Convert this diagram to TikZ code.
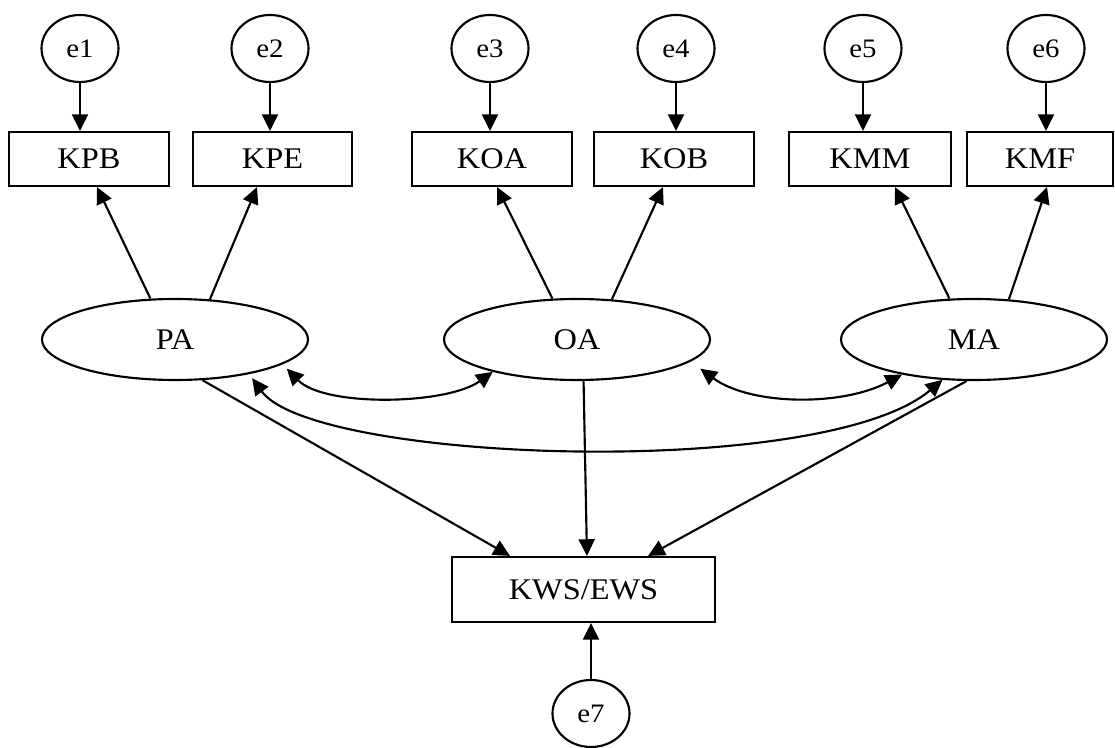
\documentclass[tikz,border=0pt]{standalone}
\usepackage{fontspec}
\setmainfont[FakeStretch=1.08]{Liberation Serif}
\usetikzlibrary{arrows.meta,shapes.geometric}
\begin{document}
\begin{tikzpicture}[x=0.75pt,y=-0.75pt,line width=1.6pt,
  arr/.style={-{Triangle[length=12.5pt,width=12pt]}},
  darr/.style={{Triangle[length=12.5pt,width=12pt]}-{Triangle[length=12.5pt,width=12pt]}},
  err/.style={draw,ellipse,minimum width=57.75pt,minimum height=50.25pt,inner sep=0pt,font=\fontsize{20}{22}\selectfont},
  obs/.style={draw,rectangle,minimum height=40.5pt,inner sep=0pt,font=\fontsize{22.5}{24}\selectfont},
  lat/.style={draw,ellipse,minimum width=199.5pt,minimum height=60.75pt,inner sep=0pt,font=\fontsize{22.5}{24}\selectfont}]
\useasboundingbox (0,0) rectangle (1115,748);

% error terms
\node[err] (e1) at (80,48.5) {e1};
\node[err] (e2) at (270,48.5) {e2};
\node[err] (e3) at (490,48.5) {e3};
\node[err] (e4) at (676,48.5) {e4};
\node[err] (e5) at (863,48.5) {e5};
\node[err] (e6) at (1046,48.5) {e6};
\node[err] (e7) at (591,713.5) {e7};

% observed indicators
\node[obs,minimum width=120pt] (KPB) at (89,159) {KPB};
\node[obs,minimum width=119.25pt] (KPE) at (272.5,159) {KPE};
\node[obs,minimum width=120pt] (KOA) at (492,159) {KOA};
\node[obs,minimum width=120pt] (KOB) at (674,159) {KOB};
\node[obs,minimum width=121.5pt] (KMM) at (870,159) {KMM};
\node[obs,minimum width=109.5pt] (KMF) at (1040,159) {KMF};
\node[obs,minimum width=197.25pt,minimum height=48.75pt] (KWS) at (583.5,589.5) {KWS/EWS};

% latent variables
\node[lat] (PA) at (175,339.5) {PA};
\node[lat] (OA) at (577,339.5) {OA};
\node[lat] (MA) at (974,339.5) {MA};

% error arrows
\foreach \e/\b in {e1/KPB,e2/KPE,e3/KOA,e4/KOB,e5/KMM,e6/KMF}
  \draw[arr] (\e.south) -- (\e.south |- \b.north);
\draw[arr] (e7.north) -- (e7.north |- KWS.south);

% loadings
\draw[arr] (PA.121) -- ([xshift=6pt]KPB.south);
\draw[arr] (PA.49) -- ([xshift=-11.6pt]KPE.south);
\draw[arr] (OA.121) -- ([xshift=3.75pt]KOA.south);
\draw[arr] (OA.49) -- ([xshift=-8.25pt]KOB.south);
\draw[arr] (MA.121) -- ([xshift=18.75pt]KMM.south);
\draw[arr] (MA.49) -- ([xshift=5.25pt]KMF.south);

% structural paths
\draw[arr] (PA.-56) -- ([xshift=-55.1pt]KWS.north);
\draw[arr] (OA.-81) -- ([xshift=2.6pt]KWS.north);
\draw[arr] (MA.-100) -- ([xshift=48.4pt]KWS.north);

% covariances
\draw[darr,shorten <=4.5pt] (PA.-13.6) .. controls +(42,43) and +(-46,33) .. (OA.-159.5);
\draw[darr,shorten <=9pt] (OA.-11.7) .. controls +(60,44) and +(-60,32) .. (MA.206.6);
\draw[darr,shorten <=3.75pt] (PA.-25.3) .. controls +(64,88.4) and +(-120,101) .. (MA.-128.2);
\end{tikzpicture}
\end{document}
